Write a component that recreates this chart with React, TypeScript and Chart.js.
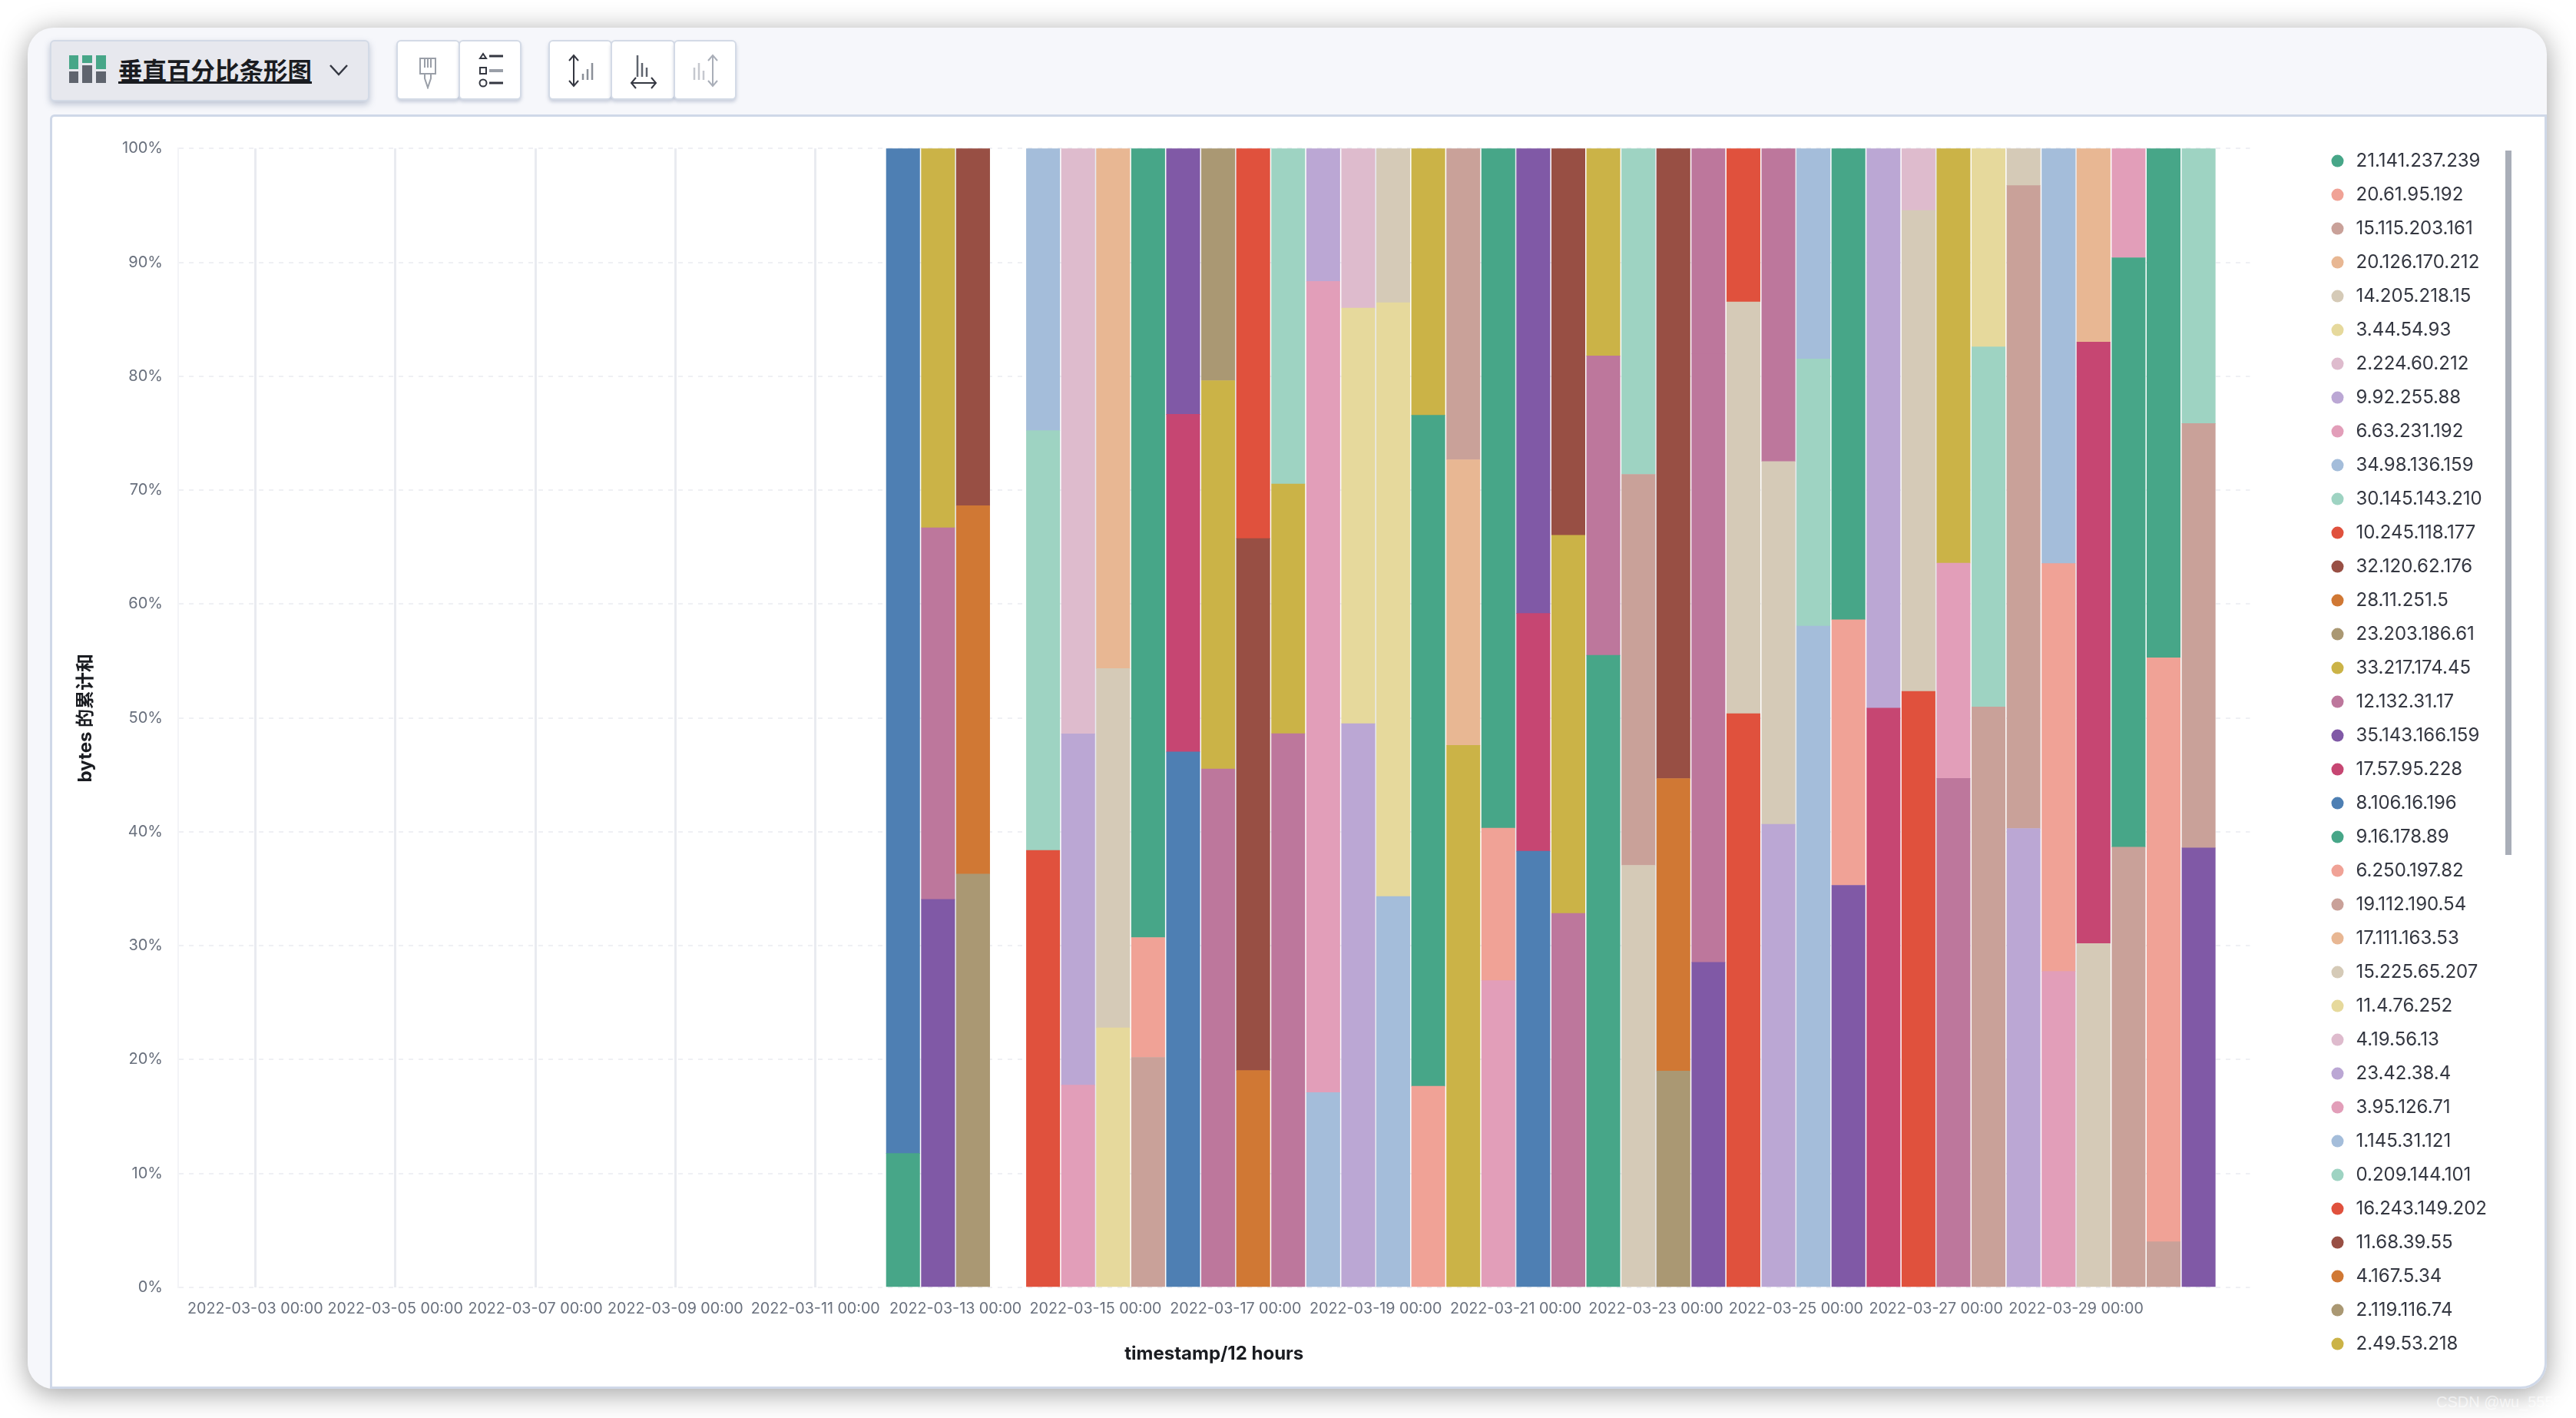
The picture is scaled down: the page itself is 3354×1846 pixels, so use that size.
import React, { useEffect, useRef } from "react";
import { Chart, registerables } from "chart.js";

Chart.register(...registerables);

const UI_FONT = "Inter, 'Noto Sans CJK SC', sans-serif";

const palette = [
  "#47a688", "#f0a296", "#c9a199", "#e8b793", "#d5cab7",
  "#e6d99c", "#debbcd", "#bba7d4", "#e29eb9", "#a4bdda",
  "#9ed3c2", "#e0513d", "#984f44", "#d07834", "#aa9873",
  "#cbb347", "#bd779c", "#8059a6", "#c64672", "#4e7fb3",
];

const seriesNames = [
  "21.141.237.239", "20.61.95.192", "15.115.203.161", "20.126.170.212", "14.205.218.15",
  "3.44.54.93", "2.224.60.212", "9.92.255.88", "6.63.231.192", "34.98.136.159",
  "30.145.143.210", "10.245.118.177", "32.120.62.176", "28.11.251.5", "23.203.186.61",
  "33.217.174.45", "12.132.31.17", "35.143.166.159", "17.57.95.228", "8.106.16.196",
  "9.16.178.89", "6.250.197.82", "19.112.190.54", "17.111.163.53", "15.225.65.207",
  "11.4.76.252", "4.19.56.13", "23.42.38.4", "3.95.126.71", "1.145.31.121",
  "0.209.144.101", "16.243.149.202", "11.68.39.55", "4.167.5.34", "2.119.116.74",
  "2.49.53.218",
  // two more series sit below the scrolled legend; their names are not visible
  "", "",
];

const binStarts = [
  "2022-03-12 00:00", "2022-03-12 12:00", "2022-03-13 00:00",
  "2022-03-14 00:00", "2022-03-14 12:00", "2022-03-15 00:00", "2022-03-15 12:00",
  "2022-03-16 00:00", "2022-03-16 12:00", "2022-03-17 00:00", "2022-03-17 12:00",
  "2022-03-18 00:00", "2022-03-18 12:00", "2022-03-19 00:00", "2022-03-19 12:00",
  "2022-03-20 00:00", "2022-03-20 12:00", "2022-03-21 00:00", "2022-03-21 12:00",
  "2022-03-22 00:00", "2022-03-22 12:00", "2022-03-23 00:00", "2022-03-23 12:00",
  "2022-03-24 00:00", "2022-03-24 12:00", "2022-03-25 00:00", "2022-03-25 12:00",
  "2022-03-26 00:00", "2022-03-26 12:00", "2022-03-27 00:00", "2022-03-27 12:00",
  "2022-03-28 00:00", "2022-03-28 12:00", "2022-03-29 00:00", "2022-03-29 12:00",
  "2022-03-30 00:00", "2022-03-30 12:00",
];

// Series (index into seriesNames) in each bin, top of the stack first.
const binSeries = [
  [19, 20], [15, 16, 17], [12, 13, 14], [9, 10, 11], [6, 7, 8], [3, 4, 5], [0, 1, 2],
  [17, 18, 19], [14, 15, 16], [11, 12, 13], [10, 15, 16], [7, 8, 9], [6, 25, 27],
  [4, 5, 9], [15, 20, 21], [2, 3, 15], [0, 1, 8], [17, 18, 19], [12, 15, 16],
  [15, 16, 20], [10, 22, 24], [12, 13, 14], [16, 36, 37], [11, 24, 31], [16, 24, 27],
  [9, 10, 29], [0, 1, 17], [7, 18], [6, 24, 31], [15, 28, 36], [5, 10, 22],
  [4, 22, 27], [9, 21, 28], [3, 18, 24], [8, 20, 22], [0, 1, 2], [10, 22, 37],
];

// Percentage shares in each bin, in the same order as binSeries.
const binShares = [
  [88.24, 11.76], [33.3, 32.63, 34.07], [31.36, 32.34, 36.3], [24.77, 36.86, 38.37],
  [51.4, 30.84, 17.76], [45.66, 31.55, 22.79], [69.28, 10.52, 20.2], [23.34, 29.64, 47.02],
  [20.38, 34.1, 45.52], [34.25, 46.71, 19.04], [29.45, 21.92, 48.63], [11.67, 71.22, 17.11],
  [14.01, 36.49, 49.5], [13.54, 52.13, 34.33], [23.42, 58.92, 17.66], [27.33, 25.07, 47.6],
  [59.67, 13.39, 26.94], [40.83, 20.87, 38.3], [33.96, 33.2, 32.84], [18.22, 26.28, 55.5],
  [28.61, 34.33, 37.06], [55.32, 25.68, 19.0], [18.04, 53.42, 28.54], [13.47, 36.15, 50.38],
  [27.48, 31.86, 40.66], [18.48, 23.45, 58.07], [41.38, 23.31, 35.31], [49.14, 50.86],
  [5.45, 42.22, 52.33], [36.4, 18.9, 44.7], [17.42, 31.61, 50.97], [3.26, 56.44, 40.3],
  [36.44, 35.82, 27.74], [17.0, 52.8, 30.2], [9.59, 51.75, 38.66], [44.71, 51.29, 4.0],
  [24.15, 37.26, 38.59],
];

const tickLabels = [
  "2022-03-03 00:00", "2022-03-05 00:00", "2022-03-07 00:00", "2022-03-09 00:00", "2022-03-11 00:00",
  "2022-03-13 00:00", "2022-03-15 00:00", "2022-03-17 00:00", "2022-03-19 00:00", "2022-03-21 00:00",
  "2022-03-23 00:00", "2022-03-25 00:00", "2022-03-27 00:00", "2022-03-29 00:00",
];

const xAxisTitle = "timestamp/12 hours";
const yAxisTitle = "bytes 的累计和";
const chartTypeLabel = "垂直百分比条形图";
const watermark = "CSDN @wu_5555";

const BIN_HOURS = 12;
const X_MIN_HOUR = 21.6;
const X_MAX_HOUR = 731.6;

// Hours since 2022-03-01 00:00, read from a "YYYY-MM-DD HH:mm" label.
function toHour(label: string): number {
  const day = Number(label.slice(8, 10));
  const hour = Number(label.slice(11, 13));
  return (day - 1) * 24 + hour;
}

function buildDatasets() {
  const sets = seriesNames.map((name, i) => ({
    label: name,
    data: [] as { x: number; y: number }[],
    backgroundColor: palette[i % palette.length],
    borderWidth: 0,
    barThickness: 43.4,
  }));
  binStarts.forEach((bin, b) => {
    binSeries[b].forEach((s, k) => {
      sets[s].data.push({ x: toHour(bin) + BIN_HOURS / 2, y: binShares[b][k] });
    });
  });
  // the first dataset stacks at the bottom, and the legend's first series is at the top
  return sets.reverse();
}

function Icon({ x, w, children }: { x: number; w: number; children: React.ReactNode }) {
  return (
    <svg style={{ position: "absolute", left: x, top: 68, width: w, height: 48 }} viewBox={`0 0 ${w} 48`} fill="none">
      {children}
    </svg>
  );
}

export default function App() {
  const ref = useRef<HTMLCanvasElement>(null);

  useEffect(() => {
    const labelByHour = new Map(tickLabels.map((l) => [toHour(l), l]));
    const chart = new Chart(ref.current!, {
      type: "bar",
      data: { datasets: buildDatasets() as any },
      options: {
        animation: false,
        responsive: false,
        devicePixelRatio: 1,
        layout: { padding: { top: 25.6, left: 0, right: 64, bottom: 0 } },
        plugins: {
          tooltip: { enabled: false },
          legend: {
            position: "right",
            align: "start",
            labels: {
              usePointStyle: true,
              pointStyle: "circle",
              boxWidth: 24,
              boxHeight: 11.3,
              padding: 20,
              color: "#343741",
              font: { family: UI_FONT, size: 24 },
              filter: (item: any) => item.text !== "",
              sort: (a: any, b: any) => b.datasetIndex - a.datasetIndex,
            },
          },
        },
        scales: {
          x: {
            type: "linear",
            stacked: true,
            offset: false,
            min: X_MIN_HOUR,
            max: X_MAX_HOUR,
            afterBuildTicks: (s: any) => {
              s.ticks = tickLabels.map((l) => ({ value: toHour(l) }));
            },
            afterFit: (s: any) => {
              s.height = 130;
            },
            grid: { color: "#e9ebf0", lineWidth: 3, drawTicks: false, offset: false },
            border: { display: false },
            ticks: {
              autoSkip: false,
              maxRotation: 0,
              padding: 16,
              color: "#69707d",
              font: { family: UI_FONT, size: 19.7 },
              callback: (v: any) => labelByHour.get(Number(v)) ?? "",
            },
            title: {
              display: true,
              text: xAxisTitle,
              color: "#1a1c21",
              font: { family: UI_FONT, size: 24, weight: "bold" },
              padding: { top: 0, bottom: 29 },
            },
          },
          x2: {
            type: "linear",
            position: "top",
            grid: { display: false },
            border: { display: false },
            ticks: { display: false },
            afterFit: (s: any) => {
              s.height = 15.7;
            },
          },
          y: {
            stacked: true,
            min: 0,
            max: 100,
            afterFit: (s: any) => {
              s.width = 164;
            },
            grid: { color: "#eff0f4", lineWidth: 2, drawTicks: false },
            border: { display: true, color: "#f3f4f7", width: 2, dash: [6, 7] },
            ticks: {
              stepSize: 10,
              padding: 20,
              color: "#69707d",
              font: { family: UI_FONT, size: 20 },
              callback: (v: any) => `${v}%`,
            },
            title: {
              display: true,
              text: yAxisTitle,
              color: "#1a1c21",
              font: { family: UI_FONT, size: 24, weight: "bold" },
              padding: { top: 29, bottom: 0 },
            },
          },
          y2: {
            type: "linear",
            position: "right",
            grid: { display: false },
            border: { display: false },
            ticks: { display: false },
            afterFit: (s: any) => {
              s.width = 82;
            },
          },
        },
      } as any,
    });
    return () => chart.destroy();
  }, []);

  const boxBtn: React.CSSProperties = {
    position: "absolute",
    top: 52,
    height: 78,
    background: "#fff",
    border: "2px solid #d3dae6",
    borderRadius: 6,
    boxSizing: "border-box",
    boxShadow: "0 3px 4px rgba(120,135,165,.35)",
  };

  return (
    <div style={{ position: "fixed", left: 0, top: 0, width: 3354, height: 1846, background: "#fff", overflow: "hidden" }}>
      <div
        style={{
          position: "absolute", left: 36, top: 36, width: 3280, height: 1772,
          borderRadius: 34, background: "#f6f7fb",
          boxShadow: "0 6px 36px rgba(0,0,0,.38)",
        }}
      />
      <div
        style={{
          position: "absolute", left: 65, top: 149, width: 3251, height: 1659,
          background: "#fff", boxSizing: "border-box",
          border: "3px solid #cfd8e8", borderTopLeftRadius: 6, borderBottomRightRadius: 34,
        }}
      />
      <div
        style={{
          position: "absolute", left: 65, top: 52, width: 416, height: 80, boxSizing: "border-box",
          background: "#e7e8ee", border: "2px solid #d3dae6", borderRadius: 6,
          boxShadow: "0 4px 8px rgba(120,135,165,.45)",
        }}
      />
      <svg style={{ position: "absolute", left: 90, top: 72, width: 48, height: 36 }} viewBox="0 0 48 36">
        <rect x="0" y="0" width="12" height="18" fill="#47a688" />
        <rect x="17" y="0" width="13" height="10" fill="#47a688" />
        <rect x="35" y="0" width="13" height="18" fill="#47a688" />
        <rect x="0" y="21" width="12" height="15" fill="#5f646e" />
        <rect x="17" y="13" width="13" height="23" fill="#5f646e" />
        <rect x="35" y="21" width="13" height="15" fill="#5f646e" />
      </svg>
      <div
        style={{
          position: "absolute", left: 154, top: 68, height: 44, lineHeight: "44px",
          fontFamily: "'Noto Sans CJK SC', sans-serif", fontWeight: 700, fontSize: 31.5,
          color: "#1a1c21", textDecoration: "underline", whiteSpace: "nowrap",
        }}
      >
        {chartTypeLabel}
      </div>
      <svg style={{ position: "absolute", left: 428, top: 82, width: 26, height: 18 }} viewBox="0 0 26 18" fill="none">
        <path d="M2 3 L13 15 L24 3" stroke="#343741" strokeWidth="2.5" />
      </svg>

      <div style={{ ...boxBtn, left: 516, width: 83 }} />
      <div style={{ ...boxBtn, left: 597, width: 82 }} />
      <div style={{ ...boxBtn, left: 714, width: 83 }} />
      <div style={{ ...boxBtn, left: 795, width: 84 }} />
      <div style={{ ...boxBtn, left: 877, width: 82 }} />

      <Icon x={540} w={34}>
        <path d="M7 8h20v20H7zM13 8v12M17 8v12M21 8v12" stroke="#9a9fa8" strokeWidth="2" />
        <path d="M13 28h8v6l-4 12-4-12z" stroke="#9a9fa8" strokeWidth="2" />
      </Icon>
      <Icon x={620} w={38}>
        <path d="M5 8l4-6 4 6zM5 20h8v8H5z" stroke="#343741" strokeWidth="2" />
        <circle cx="9" cy="40" r="4.5" stroke="#343741" strokeWidth="2" />
        <path d="M17 5h18M17 40h18" stroke="#343741" strokeWidth="3" />
        <path d="M17 24h18" stroke="#9a9fa8" strokeWidth="4" />
      </Icon>
      <Icon x={735} w={42}>
        <path d="M12 4v40M6 11l6-7 6 7M6 37l6 7 6-7" stroke="#343741" strokeWidth="2" />
        <path d="M24 36v-8M30 36V22M36 36V14" stroke="#8b9099" strokeWidth="2.5" />
      </Icon>
      <Icon x={817} w={42}>
        <path d="M13 4v28M19 14v18M25 20v12" stroke="#5f646e" strokeWidth="2.5" />
        <path d="M5 40h32M11 33l-6 7 6 7M31 33l6 7-6 7" stroke="#343741" strokeWidth="2" />
      </Icon>
      <Icon x={898} w={42}>
        <path d="M30 4v40M24 11l6-7 6 7M24 37l6 7 6-7" stroke="#a9aeb8" strokeWidth="2" />
        <path d="M6 36v-16M12 36V14M18 36V24" stroke="#c5c8ce" strokeWidth="2.5" />
      </Icon>

      <canvas
        ref={ref}
        width={3244}
        height={1654}
        style={{ position: "absolute", left: 68, top: 152, width: 3244, height: 1654 }}
      />

      <div
        style={{
          position: "absolute", left: 3262, top: 196, width: 8, height: 917,
          background: "#a9aeb8",
        }}
      />
      <div
        style={{
          position: "absolute", left: 3172, top: 1814, fontFamily: "'Liberation Sans', sans-serif",
          fontSize: 20, color: "rgba(255,255,255,.6)", whiteSpace: "nowrap",
        }}
      >
        {watermark}
      </div>
    </div>
  );
}
